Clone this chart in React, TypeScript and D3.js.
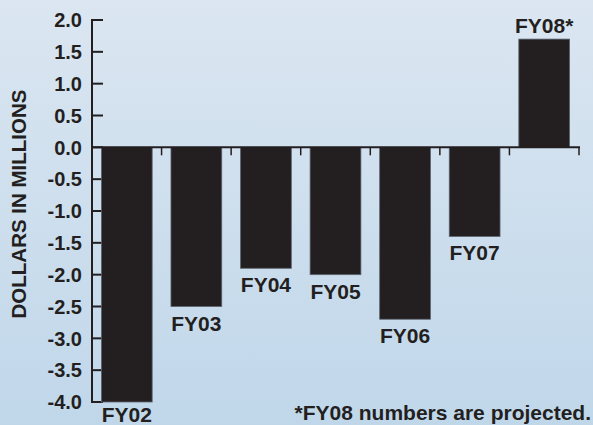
import React from 'react';
import * as d3 from 'd3';

const years = ['FY02', 'FY03', 'FY04', 'FY05', 'FY06', 'FY07', 'FY08*'];
const values = [-4.0, -2.5, -1.9, -2.0, -2.7, -1.4, 1.7];
const yTicks = [2.0, 1.5, 1.0, 0.5, 0.0, -0.5, -1.0, -1.5, -2.0, -2.5, -3.0, -3.5, -4.0];

const W = 593;
const H = 425;
const font = "'Liberation Sans', Arial, Helvetica, sans-serif";
const ink = '#231f20';

const App: React.FC = () => {
  const x = d3.scaleBand<string>().domain(years).range([92, 579]).paddingInner(0.27).paddingOuter(0.135);
  const y = d3.scaleLinear().domain([-4, 2]).range([402, 20]);
  const step = x.step();

  return (
    <svg width={W} height={H} style={{ position: 'absolute', left: 0, top: 0 }} fontFamily={font}>
      <defs>
        <linearGradient id="bg" x1="0" y1="0" x2="0" y2="1">
          <stop offset="0%" stopColor="#dbe6f1" />
          <stop offset="100%" stopColor="#c0d7ea" />
        </linearGradient>
      </defs>
      <rect x={0} y={0} width={W} height={H} fill="url(#bg)" />

      {/* y axis */}
      <line x1={92} x2={92} y1={y(2) - 1} y2={y(-4) + 1} stroke={ink} strokeWidth={2} />
      {yTicks.map((t) => (
        <g key={t}>
          <line x1={92} x2={103} y1={y(t)} y2={y(t)} stroke={ink} strokeWidth={2} />
          <text x={82} y={y(t)} dy="0.36em" textAnchor="end" fontSize={20} fontWeight="bold" fill={ink}>
            {t.toFixed(1)}
          </text>
        </g>
      ))}

      {/* bars */}
      {years.map((yr, i) => {
        const v = values[i];
        const top = y(Math.max(0, v));
        const bottom = y(Math.min(0, v));
        const cx = x(yr)! + x.bandwidth() / 2;
        return (
          <g key={yr}>
            <rect
              x={x(yr)}
              y={top}
              width={x.bandwidth()}
              height={bottom - top}
              fill={ink}
              stroke="#5d6470"
              strokeWidth={0.8}
            />
            <text
              x={cx}
              y={v < 0 ? Math.min(bottom + 24, H - 3) : top - 6}
              textAnchor="middle"
              fontSize={21}
              fontWeight="bold"
              fill={ink}
            >
              {yr}
            </text>
          </g>
        );
      })}

      {/* x axis */}
      <line x1={92} x2={580} y1={y(0)} y2={y(0)} stroke={ink} strokeWidth={2} />
      {years.map((yr) => (
        <line
          key={yr}
          x1={x(yr)! + x.bandwidth() + (step - x.bandwidth()) / 2}
          x2={x(yr)! + x.bandwidth() + (step - x.bandwidth()) / 2}
          y1={y(0)}
          y2={y(0) + 8}
          stroke={ink}
          strokeWidth={1.5}
        />
      ))}

      <text
        x={-204}
        y={26}
        transform="rotate(-90)"
        textAnchor="middle"
        fontSize={20.5}
        fontWeight="bold"
        fill={ink}
      >
        DOLLARS IN MILLIONS
      </text>

      <text x={591} y={420} textAnchor="end" fontSize={21} fontWeight="bold" fill={ink}>
        *FY08 numbers are projected.
      </text>
    </svg>
  );
};

export default App;
